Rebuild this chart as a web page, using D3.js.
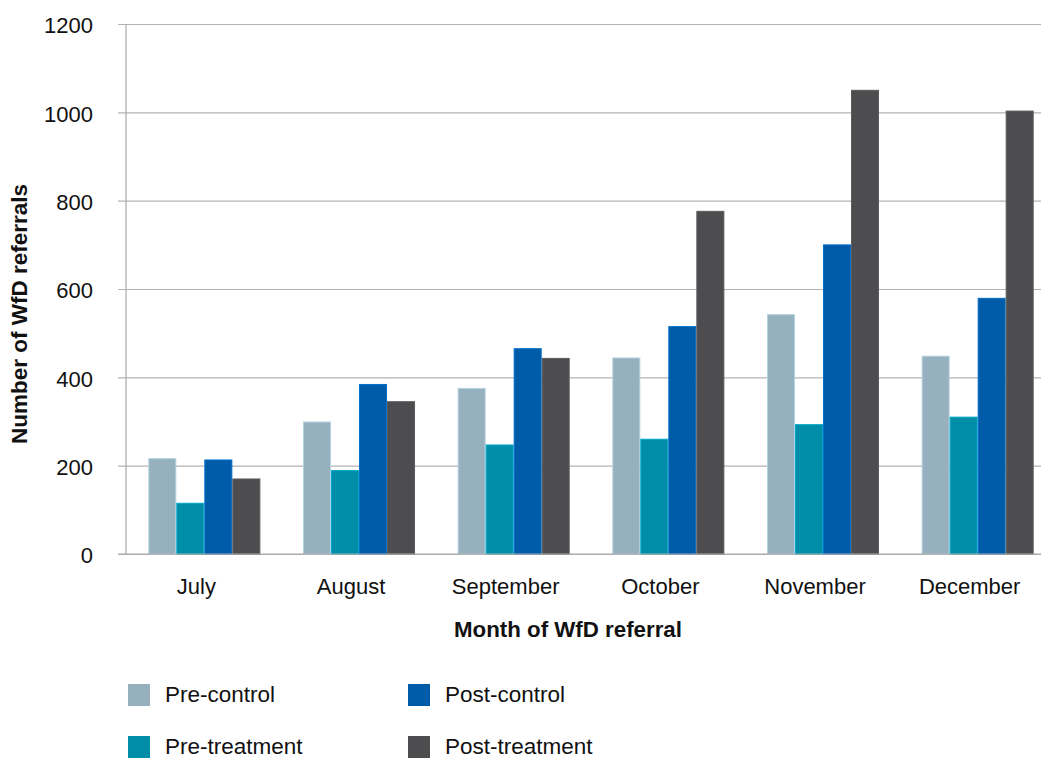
<!DOCTYPE html>
<html>
<head>
<meta charset="utf-8">
<script src="https://cdn.jsdelivr.net/npm/d3@7"></script>
<style>
  html, body { margin: 0; padding: 0; background: #fff; }
  svg { display: block; font-family: "Liberation Sans", Arial, Helvetica, sans-serif; }
</style>
</head>
<body>
<svg id="chart" width="1041" height="758"></svg>
<script>
// Monthly WfD referrals, July–December
const months = ["July", "August", "September", "October", "November", "December"];
const seriesNames = ["Pre-control", "Pre-treatment", "Post-control", "Post-treatment"];
const preControl    = [217, 300, 376, 445, 543, 449];
const preTreatment  = [116, 190, 248, 261, 294, 311];
const postControl   = [214, 385, 466, 516, 701, 580];
const postTreatment = [171, 346, 444, 777, 1051, 1004];
const yTicks = [0, 200, 400, 600, 800, 1000, 1200];
const seriesColors = ["#96b0be", "#008da8", "#005ca8", "#4d4d4f"];

const seriesValues = [preControl, preTreatment, postControl, postTreatment];
const rows = months.map((m, i) => ({
  month: m,
  values: seriesNames.map((s, j) => ({ key: s, value: seriesValues[j][i] }))
}));

const svg = d3.select("#chart");
const W = 1041;
const plotLeft = 126, plotTop = 24, plotBottom = 554;
const fontFamily = "'Liberation Sans', Arial, sans-serif";

const x0 = d3.scaleBand()
  .domain(months)
  .range([127, 1055])
  .paddingInner(0.2755)
  .paddingOuter(0.1378);

const x1 = d3.scaleBand()
  .domain(seriesNames)
  .range([0, x0.bandwidth()])
  .padding(0);

const y = d3.scaleLinear().domain([0, 1200]).range([plotBottom, plotTop]);
const color = d3.scaleOrdinal().domain(seriesNames).range(seriesColors);

// Y axis with gridlines and short outside ticks
const yAxis = svg.append("g")
  .attr("transform", `translate(${plotLeft},0)`)
  .call(d3.axisLeft(y).tickValues(yTicks).tickSize(0).tickPadding(0).tickFormat(d3.format("d")));
yAxis.select(".domain").remove();
yAxis.selectAll(".tick line")
  .attr("x1", -8)
  .attr("x2", W - plotLeft)
  .attr("stroke", "#b3b3b3")
  .attr("stroke-width", 1.2);
yAxis.selectAll(".tick text")
  .attr("x", -33)
  .attr("dy", "0.4em")
  .attr("fill", "#111")
  .style("font-size", "22px")
  .style("font-family", fontFamily);

// Vertical axis line
svg.append("line")
  .attr("x1", plotLeft).attr("x2", plotLeft)
  .attr("y1", y(1200)).attr("y2", y(0))
  .attr("stroke", "#a8a8a8")
  .attr("stroke-width", 1.2);

// Bars
const groups = svg.append("g")
  .selectAll("g")
  .data(rows)
  .join("g")
  .attr("transform", d => `translate(${x0(d.month)},0)`);

groups.selectAll("rect")
  .data(d => d.values)
  .join("rect")
  .attr("x", d => x1(d.key) + 0.5)
  .attr("y", d => y(d.value) + 0.5)
  .attr("width", x1.bandwidth() - 1)
  .attr("height", d => y(0) - y(d.value) - 0.5)
  .attr("fill", d => color(d.key))
  .attr("stroke", d => d3.color(color(d.key)).brighter(0.5))
  .attr("stroke-width", 1);

// Baseline redrawn over the bars
svg.append("line")
  .attr("x1", plotLeft - 8).attr("x2", W)
  .attr("y1", y(0)).attr("y2", y(0))
  .attr("stroke", "#a8a8a8")
  .attr("stroke-width", 1.2);

// X axis labels
const xAxis = svg.append("g")
  .attr("transform", `translate(0,${plotBottom})`)
  .call(d3.axisBottom(x0).tickSize(0).tickPadding(0));
xAxis.select(".domain").remove();
xAxis.selectAll(".tick text")
  .attr("x", -8)
  .attr("y", 40)
  .attr("dy", 0)
  .attr("fill", "#111")
  .style("font-size", "22px")
  .style("font-family", fontFamily);

// Axis titles
svg.append("text")
  .attr("x", 568)
  .attr("y", 637)
  .attr("text-anchor", "middle")
  .attr("font-weight", "bold")
  .attr("font-size", "22.3px")
  .attr("fill", "#111")
  .text("Month of WfD referral");

svg.append("text")
  .attr("transform", "translate(27,314) rotate(-90)")
  .attr("text-anchor", "middle")
  .attr("font-weight", "bold")
  .attr("font-size", "22.5px")
  .attr("fill", "#111")
  .text("Number of WfD referrals");

// Legend: two columns, two rows
const legendItems = [
  { key: "Pre-control",    col: 0, row: 0 },
  { key: "Post-control",   col: 1, row: 0 },
  { key: "Pre-treatment",  col: 0, row: 1 },
  { key: "Post-treatment", col: 1, row: 1 }
];
const legend = svg.append("g")
  .selectAll("g")
  .data(legendItems)
  .join("g")
  .attr("transform", d => `translate(${128 + d.col * 280},${684 + d.row * 52})`);
legend.append("rect")
  .attr("width", 22)
  .attr("height", 22)
  .attr("fill", d => color(d.key));
legend.append("text")
  .attr("x", 37)
  .attr("y", 18)
  .attr("font-size", "22.5px")
  .attr("fill", "#111")
  .text(d => d.key);
</script>
</body>
</html>
